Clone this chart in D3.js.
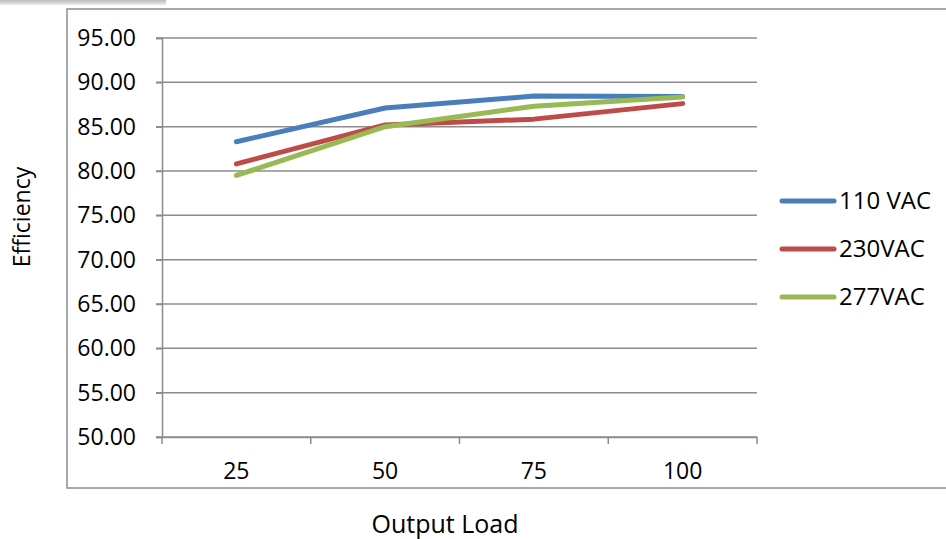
<!doctype html>
<html>
<head>
<meta charset="utf-8">
<title>Efficiency</title>
<style>
  body { margin: 0; background: #fff; }
  svg { display: block; font-family: "Open Sans", "Noto Sans", sans-serif; }
</style>
</head>
<body>
<div id="chart"></div>
<script src="https://cdn.jsdelivr.net/npm/d3@7"></script>
<script>
// データ
var loads = ["25", "50", "75", "100"];
var seriesNames = ["110 VAC", "230VAC", "277VAC"];
var v110 = [83.3, 87.1, 88.45, 88.4];
var v230 = [80.8, 85.2, 85.85, 87.6];
var v277 = [79.5, 85.0, 87.3, 88.35];
var yTicks = [50, 55, 60, 65, 70, 75, 80, 85, 90, 95];
var colors = ["#4a7ebb", "#be4b48", "#98b954"];

var W = 946, H = 539;
var plot = {left: 162, right: 757, top: 38, bottom: 437};

var svg = d3.select("#chart").append("svg")
  .attr("width", W).attr("height", H);

// 左上の影
var grad = svg.append("defs").append("linearGradient")
  .attr("id", "shadow").attr("x1", 0).attr("y1", 0).attr("x2", 0).attr("y2", 1);
grad.append("stop").attr("offset", "0%").attr("stop-color", "#bbb");
grad.append("stop").attr("offset", "100%").attr("stop-color", "#eee");
svg.append("rect").attr("x", 0).attr("y", 0).attr("width", 166).attr("height", 5)
  .attr("fill", "url(#shadow)");

// 外枠
svg.append("rect")
  .attr("x", 67).attr("y", 9).attr("width", W).attr("height", 479)
  .attr("fill", "#fff").attr("stroke", "#8c8c8c").attr("stroke-width", 1.5);

var x = d3.scaleBand().domain(loads).range([plot.left, plot.right]);
var y = d3.scaleLinear().domain([50, 95]).range([plot.bottom, plot.top]);

// 横グリッド
svg.append("g").selectAll("line")
  .data(yTicks)
  .enter().append("line")
  .attr("x1", plot.left - 6).attr("x2", plot.right)
  .attr("y1", function(d) { return y(d); })
  .attr("y2", function(d) { return y(d); })
  .attr("stroke", "#8c8c8c").attr("stroke-width", 1.5);

// Y軸
var yAxis = svg.append("g")
  .attr("transform", "translate(" + plot.left + ",0)")
  .call(d3.axisLeft(y).tickValues(yTicks).tickSize(6).tickPadding(20)
    .tickFormat(function(d) { return d3.format(".2f")(d); }));
yAxis.select(".domain").attr("stroke", "#8c8c8c").attr("stroke-width", 1.5);
yAxis.selectAll(".tick line").attr("stroke", "#8c8c8c").attr("stroke-width", 1.5);
yAxis.selectAll("text").attr("font-size", "23px").attr("fill", "#000")
  .attr("font-family", "'Open Sans', sans-serif");

// X軸
var xAxis = svg.append("g")
  .attr("transform", "translate(0," + plot.bottom + ")")
  .call(d3.axisBottom(x).tickSize(0).tickPadding(26));
xAxis.select(".domain").attr("stroke", "#8c8c8c").attr("stroke-width", 1.5);
xAxis.selectAll("text").attr("font-size", "23px").attr("fill", "#000")
  .attr("font-family", "'Open Sans', sans-serif");
// 区切り目盛
var bounds = loads.map(function(d) { return x(d); }).concat([plot.right]);
svg.append("g").selectAll("line")
  .data(bounds)
  .enter().append("line")
  .attr("x1", function(d) { return d; }).attr("x2", function(d) { return d; })
  .attr("y1", plot.bottom).attr("y2", plot.bottom + 7)
  .attr("stroke", "#8c8c8c").attr("stroke-width", 1.5);

// 線
var line = d3.line()
  .x(function(d, i) { return x(loads[i]) + x.bandwidth() / 2; })
  .y(function(d) { return y(d); });

[v110, v230, v277].forEach(function(vals, i) {
  svg.append("path")
    .attr("d", line(vals))
    .attr("fill", "none")
    .attr("stroke", colors[i])
    .attr("stroke-width", 5)
    .attr("stroke-linecap", "round")
    .attr("stroke-linejoin", "round");
});

// 凡例
var legendY = d3.scalePoint().domain(seriesNames).range([201, 297]);
var lg = svg.append("g").selectAll("g")
  .data(seriesNames)
  .enter().append("g")
  .attr("transform", function(d) { return "translate(0," + legendY(d) + ")"; });
lg.append("line")
  .attr("x1", 782).attr("x2", 834)
  .attr("stroke", function(d, i) { return colors[i]; })
  .attr("stroke-width", 5).attr("stroke-linecap", "round");
lg.append("text")
  .attr("x", 839).attr("dy", "0.35em")
  .attr("font-size", "24px")
  .text(function(d) { return d; });

// 軸タイトル
svg.append("text")
  .attr("x", 445).attr("y", 533)
  .attr("text-anchor", "middle").attr("font-size", "25px")
  .text("Output Load");
svg.append("text")
  .attr("transform", "translate(30,217) rotate(-90)")
  .attr("text-anchor", "middle").attr("font-size", "23px")
  .text("Efficiency");
</script>
</body>
</html>
